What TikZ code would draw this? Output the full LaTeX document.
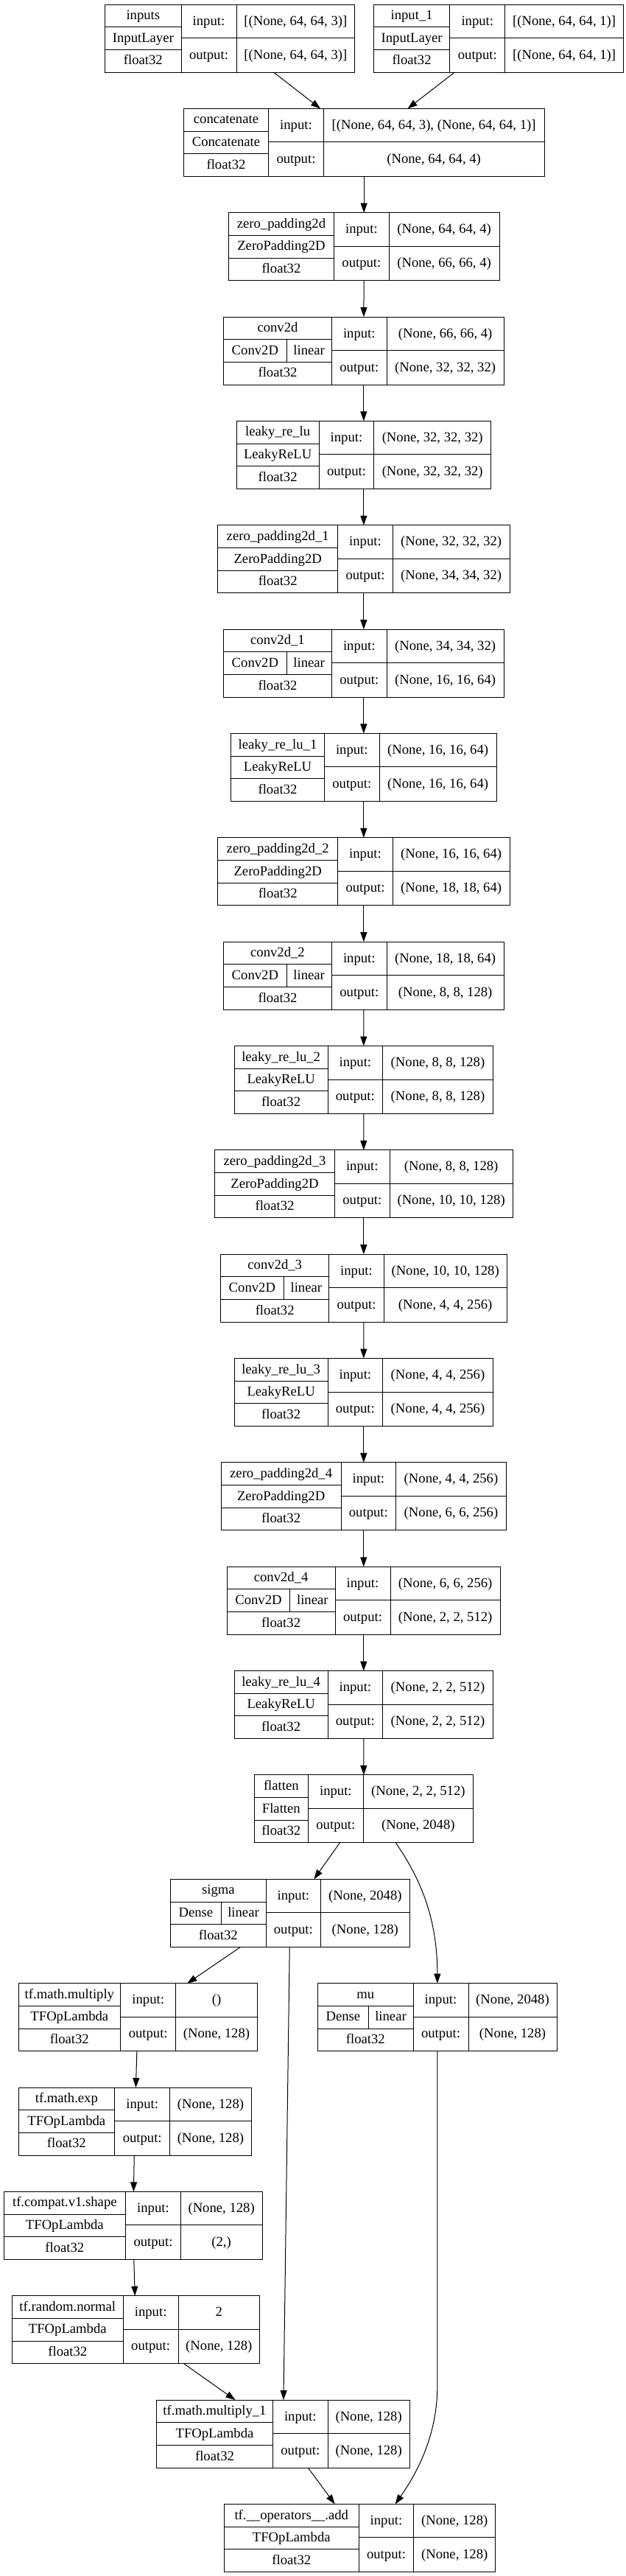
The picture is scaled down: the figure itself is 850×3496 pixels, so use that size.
\documentclass[tikz,border=0pt]{standalone}
\usepackage{fontspec}
\setmainfont{Liberation Serif}
\usetikzlibrary{arrows.meta}
\tikzset{
  lbox/.style={draw=black, line width=1pt, rectangle, inner sep=0pt, outer sep=0pt, minimum height=92pt},
  cell/.style={draw=black, line width=1pt},
  txt/.style={inner sep=0pt, outer sep=0pt, text height=13.5pt, text depth=3pt, font=\fontsize{18.67pt}{22pt}\selectfont},
  edge/.style={draw=black, line width=1pt, -{Triangle[length=13pt,width=9pt]}}
}
\newcommand\setgeom[5]{%
  \pgfmathsetmacro\gT{6+141.35*(#1-1)}%
  \def\gL{#2}\def\gA{#3}\def\gB{#4}\def\gR{#5}}
\newcommand\drawframe[1]{%
  \pgfmathsetmacro\gW{\gR-\gL}%
  \pgfmathsetmacro\gCx{(\gL+\gR)/2}%
  \pgfmathsetmacro\gCy{\gT+46}%
  \pgfmathsetmacro\gYa{\gT+30.67}%
  \pgfmathsetmacro\gYb{\gT+61.33}%
  \pgfmathsetmacro\gYm{\gT+45.5}%
  \pgfmathsetmacro\gYe{\gT+92}%
  \pgfmathsetmacro\gRa{\gT+15.33}%
  \pgfmathsetmacro\gRb{\gT+46}%
  \pgfmathsetmacro\gRc{\gT+76.67}%
  \pgfmathsetmacro\gIa{\gT+22.75}%
  \pgfmathsetmacro\gIb{\gT+68.75}%
  \pgfmathsetmacro\gLc{(\gL+\gA)/2}%
  \pgfmathsetmacro\gMc{(\gA+\gB)/2}%
  \pgfmathsetmacro\gSc{(\gB+\gR)/2}%
  \node[lbox, minimum width=\gW pt] (#1) at (\gCx,\gCy) {};
  \draw[cell] (\gA,\gT) -- (\gA,\gYe) (\gB,\gT) -- (\gB,\gYe)
    (\gL,\gYa) -- (\gA,\gYa) (\gL,\gYb) -- (\gA,\gYb) (\gA,\gYm) -- (\gR,\gYm);
  \node[txt] (#1-i) at (\gMc,\gIa) {input:};
  \node[txt] (#1-o) at (\gMc,\gIb) {output:};
}
\newcommand\layer[6]{%
  \drawframe{#1}
  \node[txt] (#1-n) at (\gLc,\gRa) {#2};
  \node[txt] (#1-c) at (\gLc,\gRb) {#3};
  \node[txt] (#1-d) at (\gLc,\gRc) {#4};
  \node[txt] (#1-si) at (\gSc,\gIa) {#5};
  \node[txt] (#1-so) at (\gSc,\gIb) {#6};
}
\newcommand\layeract[8]{%
  \drawframe{#1}
  \draw[cell] (#2,\gYa) -- (#2,\gYb);
  \pgfmathsetmacro\gCa{(\gL+#2)/2}%
  \pgfmathsetmacro\gCb{(#2+\gA)/2}%
  \node[txt] (#1-n) at (\gLc,\gRa) {#3};
  \node[txt] (#1-c) at (\gCa,\gRb) {#4};
  \node[txt] (#1-a) at (\gCb,\gRb) {#5};
  \node[txt] (#1-d) at (\gLc,\gRc) {#6};
  \node[txt] (#1-si) at (\gSc,\gIa) {#7};
  \node[txt] (#1-so) at (\gSc,\gIb) {#8};
}
\begin{document}
\begin{tikzpicture}[x=1pt, y=-1pt]
\useasboundingbox (0,0) rectangle (850,3496);
\fill[white] (0,0) rectangle (850,3496);

\setgeom{1}{142.7}{246}{321}{481.7}
\layer{inputs}{inputs}{InputLayer}{float32}{[(None, 64, 64, 3)]}{[(None, 64, 64, 3)]}
\setgeom{1}{507.5}{610.8}{685.8}{846.5}
\layer{input1}{input\_1}{InputLayer}{float32}{[(None, 64, 64, 1)]}{[(None, 64, 64, 1)]}
\setgeom{2}{249.3}{364.7}{439.3}{739}
\layer{concat}{concatenate}{Concatenate}{float32}{[(None, 64, 64, 3), (None, 64, 64, 1)]}{(None, 64, 64, 4)}
\setgeom{3}{310.3}{453.6}{528.2}{678}
\layer{zp0}{zero\_padding2d}{ZeroPadding2D}{float32}{(None, 64, 64, 4)}{(None, 66, 66, 4)}
\setgeom{4}{303.7}{450.3}{525.3}{684}
\layeract{c0}{389}{conv2d}{Conv2D}{linear}{float32}{(None, 66, 66, 4)}{(None, 32, 32, 32)}
\setgeom{5}{321}{433.3}{507.7}{666.7}
\layer{lr0}{leaky\_re\_lu}{LeakyReLU}{float32}{(None, 32, 32, 32)}{(None, 32, 32, 32)}
\setgeom{6}{295.7}{458.7}{533.3}{692}
\layer{zp1}{zero\_padding2d\_1}{ZeroPadding2D}{float32}{(None, 32, 32, 32)}{(None, 34, 34, 32)}
\setgeom{7}{303.7}{450.3}{525.3}{684}
\layeract{c1}{389}{conv2d\_1}{Conv2D}{linear}{float32}{(None, 34, 34, 32)}{(None, 16, 16, 64)}
\setgeom{8}{313.7}{440.3}{515.3}{674}
\layer{lr1}{leaky\_re\_lu\_1}{LeakyReLU}{float32}{(None, 16, 16, 64)}{(None, 16, 16, 64)}
\setgeom{9}{295.7}{458.7}{533.3}{692}
\layer{zp2}{zero\_padding2d\_2}{ZeroPadding2D}{float32}{(None, 16, 16, 64)}{(None, 18, 18, 64)}
\setgeom{10}{303.7}{450.3}{525.3}{684}
\layeract{c2}{389}{conv2d\_2}{Conv2D}{linear}{float32}{(None, 18, 18, 64)}{(None, 8, 8, 128)}
\setgeom{11}{318.3}{445}{519.7}{669.3}
\layer{lr2}{leaky\_re\_lu\_2}{LeakyReLU}{float32}{(None, 8, 8, 128)}{(None, 8, 8, 128)}
\setgeom{12}{291.7}{454.3}{529.3}{696}
\layer{zp3}{zero\_padding2d\_3}{ZeroPadding2D}{float32}{(None, 8, 8, 128)}{(None, 10, 10, 128)}
\setgeom{13}{299.7}{446.7}{521.3}{688}
\layeract{c3}{385}{conv2d\_3}{Conv2D}{linear}{float32}{(None, 10, 10, 128)}{(None, 4, 4, 256)}
\setgeom{14}{318.3}{445}{519.7}{669.3}
\layer{lr3}{leaky\_re\_lu\_3}{LeakyReLU}{float32}{(None, 4, 4, 256)}{(None, 4, 4, 256)}
\setgeom{15}{300.3}{463}{537.7}{687.3}
\layer{zp4}{zero\_padding2d\_4}{ZeroPadding2D}{float32}{(None, 4, 4, 256)}{(None, 6, 6, 256)}
\setgeom{16}{308.3}{455}{530}{679.3}
\layeract{c4}{393.7}{conv2d\_4}{Conv2D}{linear}{float32}{(None, 6, 6, 256)}{(None, 2, 2, 512)}
\setgeom{17}{318.3}{445}{519.7}{669.3}
\layer{lr4}{leaky\_re\_lu\_4}{LeakyReLU}{float32}{(None, 2, 2, 512)}{(None, 2, 2, 512)}
\setgeom{18}{345}{418.7}{493}{642.7}
\layer{flatten}{flatten}{Flatten}{float32}{(None, 2, 2, 512)}{(None, 2048)}
\setgeom{19}{231.7}{361}{435.7}{556}
\layeract{sigma}{300}{sigma}{Dense}{linear}{float32}{(None, 2048)}{(None, 128)}
\setgeom{20}{25}{163.7}{238.7}{349.3}
\layer{mul}{tf.math.multiply}{TFOpLambda}{float32}{()}{(None, 128)}
\setgeom{20}{431.7}{561}{636}{756}
\layeract{mu}{500}{mu}{Dense}{linear}{float32}{(None, 2048)}{(None, 128)}
\setgeom{21}{25}{155.7}{230.7}{341.3}
\layer{exp}{tf.math.exp}{TFOpLambda}{float32}{(None, 128)}{(None, 128)}
\setgeom{22}{5}{170.7}{245.3}{356}
\layer{shape}{tf.compat.v1.shape}{TFOpLambda}{float32}{(None, 128)}{(2,)}
\setgeom{23}{16.3}{167.3}{242}{352.7}
\layer{rnd}{tf.random.normal}{TFOpLambda}{float32}{2}{(None, 128)}
\setgeom{24}{212.7}{370.3}{445.3}{556}
\layer{mul1}{tf.math.multiply\_1}{TFOpLambda}{float32}{(None, 128)}{(None, 128)}
\setgeom{25}{304.3}{487.3}{561.7}{672.7}
\layer{add}{tf.\_\_operators\_\_.add}{TFOpLambda}{float32}{(None, 128)}{(None, 128)}

\draw[edge] (inputs) -- (concat);
\draw[edge] (input1) -- (concat);
\draw[edge] (concat) -- (zp0);
\draw[edge] (zp0) -- (c0);
\draw[edge] (c0) -- (lr0);
\draw[edge] (lr0) -- (zp1);
\draw[edge] (zp1) -- (c1);
\draw[edge] (c1) -- (lr1);
\draw[edge] (lr1) -- (zp2);
\draw[edge] (zp2) -- (c2);
\draw[edge] (c2) -- (lr2);
\draw[edge] (lr2) -- (zp3);
\draw[edge] (zp3) -- (c3);
\draw[edge] (c3) -- (lr3);
\draw[edge] (lr3) -- (zp4);
\draw[edge] (zp4) -- (c4);
\draw[edge] (c4) -- (lr4);
\draw[edge] (lr4) -- (flatten);
\draw[edge] (flatten) -- (sigma);
\draw[edge] ([xshift=43.5pt]flatten.south) .. controls (575,2555) and (593.85,2610) .. (mu.north);
\draw[edge] (sigma) -- (mul);
\draw[edge] (sigma) -- (mul1);
\draw[edge] (mul) -- (exp);
\draw[edge] (exp) -- (shape);
\draw[edge] (shape) -- (rnd);
\draw[edge] (rnd) -- (mul1);
\draw[edge] (mul1) -- (add);
\coordinate (mubend) at (593.85,3238);
\draw[edge] (mu.south) -- (mubend) .. controls (593.85,3310) and (562,3362) .. ([xshift=48.2pt]add.north);
\end{tikzpicture}
\end{document}
